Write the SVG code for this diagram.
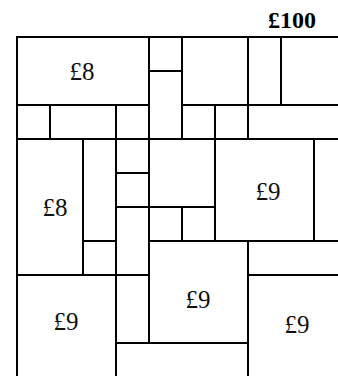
<svg xmlns="http://www.w3.org/2000/svg" width="338" height="376" viewBox="0 0 338 376">
<style>
.g{stroke:#000;stroke-width:2;fill:none;stroke-linecap:square}
.t{font-family:"Liberation Serif","Times New Roman",serif;font-size:25px;fill:#111;text-anchor:middle}
.b{font-family:"Liberation Serif","Times New Roman",serif;font-size:24px;font-weight:bold;fill:#000;text-anchor:middle}
</style>
<rect width="338" height="376" fill="#fff"/>
<g id="grid" class="g">
<path d="M17,37H340 M149,71H182 M17,105H149 M182,105H340 M17,139H340 M116,173H149 M116,207H215 M83,241H116 M149,241H340 M17,275H149 M248,275H340 M116,343H248"/>
<path d="M17,37V378 M50,105V139 M83,139V275 M116,105V378 M149,37V343 M182,37V139 M182,207V241 M215,105V241 M248,37V139 M248,241V378 M281,37V105 M314,139V241"/>
</g>
<g id="total"><text class="b" x="292" y="28">£100</text></g>
<g id="cell-top-left"><text class="t" x="82" y="80">£8</text></g>
<g id="cell-left"><text class="t" x="55" y="216">£8</text></g>
<g id="cell-right-upper"><text class="t" x="268" y="200">£9</text></g>
<g id="cell-middle"><text class="t" x="198" y="308">£9</text></g>
<g id="cell-bottom-left"><text class="t" x="66" y="330">£9</text></g>
<g id="cell-bottom-right"><text class="t" x="297" y="333">£9</text></g>
</svg>
